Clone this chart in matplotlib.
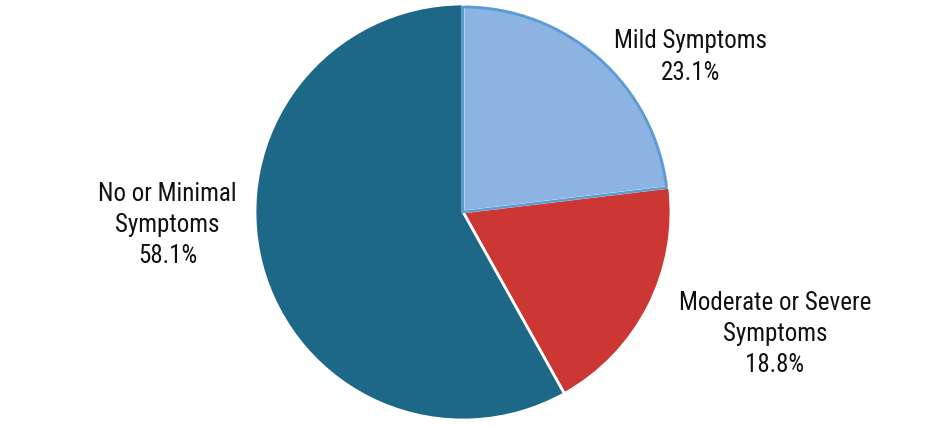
import matplotlib
matplotlib.use("Agg")
import matplotlib.pyplot as plt

categories = ["Mild Symptoms", "Moderate or Severe\nSymptoms", "No or Minimal\nSymptoms"]
values = [23.1, 18.8, 58.1]
colors = ["#8db3e2", "#cc3734", "#1c6886"]

plt.rcParams['font.family'] = ['Roboto Condensed', 'Liberation Sans Narrow', 'Roboto', 'DejaVu Sans']

fig = plt.figure(figsize=(9.26, 4.27), dpi=100)
ax = fig.add_axes([0, 0, 1, 1])

wedges, _ = ax.pie(values, colors=colors, startangle=90, counterclock=False,
                   wedgeprops=dict(edgecolor="white", linewidth=2))
# blue inner outline on the mild slice
inner, _ = ax.pie(values, colors=["none"] * 3, startangle=90, counterclock=False,
                  radius=0.985, wedgeprops=dict(linewidth=1.8))
for i, w in enumerate(inner):
    if i == 0:
        w.set_edgecolor("#5b9bd5")
    else:
        w.set_edgecolor("none")

label_pos = [(1.096, 0.75), (1.50, -0.582), (-1.42, -0.057)]
for cat, v, (x, y) in zip(categories, values, label_pos):
    ax.text(x, y, f"{cat}\n{v:.1f}%", ha="center", va="center", fontsize=18,
            linespacing=1.37, color="#111111")

ax.set_xlim(-463 / 208, 463 / 208)
ax.set_ylim(-214 / 208, 213 / 208)
ax.set_aspect("auto")
ax.axis("off")
fig.savefig("out.png", dpi=100, facecolor="white")
